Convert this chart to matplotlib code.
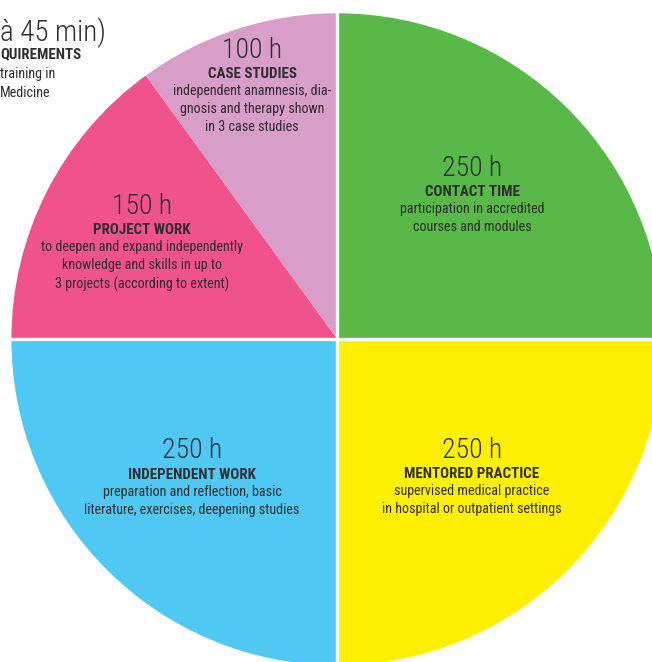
import matplotlib
matplotlib.use("Agg")
import matplotlib.pyplot as plt

plt.rcParams['font.family'] = ['Roboto Condensed', 'DejaVu Sans']

# ---- data ----
hours = [250, 250, 250, 150, 100]
titles = ["CONTACT TIME", "MENTORED PRACTICE", "INDEPENDENT WORK", "PROJECT WORK", "CASE STUDIES"]
descriptions = [
    "participation in accredited\ncourses and modules",
    "supervised medical practice\nin hospital or outpatient settings",
    "preparation and reflection, basic\nliterature, exercises, deepening studies",
    "to deepen and expand independently\nknowledge and skills in up to\n3 projects (according to extent)",
    "independent anamnesis, dia-\ngnosis and therapy shown\nin 3 case studies",
]
colors = ["#58B848", "#FFF000", "#4FC9F4", "#F0528A", "#D89DC8"]
corner_lines = ["à 45 min)", "QUIREMENTS", "training in", "Medicine"]

# ---- layout (pixel coords, y up) ----
W, H = 652, 662
cx, cy = 337.4, H - 339.3
R = 326
label_xy = [(472, H - 168), (472, H - 450), (192, H - 451), (142, H - 206), (252, H - 50)]

fig = plt.figure(figsize=(W / 100, H / 100), dpi=100)
ax = fig.add_axes([0, 0, 1, 1])
ax.pie(hours, colors=colors, startangle=90, counterclock=False,
       center=(cx, cy), radius=R, wedgeprops=dict(linewidth=0))
ax.set_xlim(0, W)
ax.set_ylim(0, H)
ax.set_aspect('auto')
ax.axis('off')

# white gaps between the quarters
ax.plot([cx, cx], [cy - R - 5, cy + R + 5], color='white', lw=2.4, solid_capstyle='butt')
ax.plot([cx - R - 5, cx + R + 5], [cy, cy], color='white', lw=2.4, solid_capstyle='butt')

tc = "#2e2e2e"
fs_num, fs_title, fs_desc = 20, 10.8, 10.2
for (x, y), h, t, d in zip(label_xy, hours, titles, descriptions):
    ax.text(x, y, f"{h} h", ha='center', va='center', fontsize=fs_num, fontweight=300, color=tc)
    ax.text(x, y - 24, t, ha='center', va='center', fontsize=fs_title, fontweight='bold', color=tc)
    ax.text(x, y - 34, d, ha='center', va='top', fontsize=fs_desc, fontweight='normal', color=tc, linespacing=1.36)

# partially visible text from the neighbouring element (top-left)
ax.text(0, H - 33, corner_lines[0], ha='left', va='center', fontsize=21, fontweight=300, color=tc)
ax.text(0, H - 54, corner_lines[1], ha='left', va='center', fontsize=fs_title, fontweight='bold', color=tc)
ax.text(0, H - 74, corner_lines[2], ha='left', va='center', fontsize=fs_desc, fontweight='normal', color=tc)
ax.text(0, H - 93, corner_lines[3], ha='left', va='center', fontsize=fs_desc, fontweight='normal', color=tc)

fig.savefig("out.png", dpi=100, facecolor='white')
